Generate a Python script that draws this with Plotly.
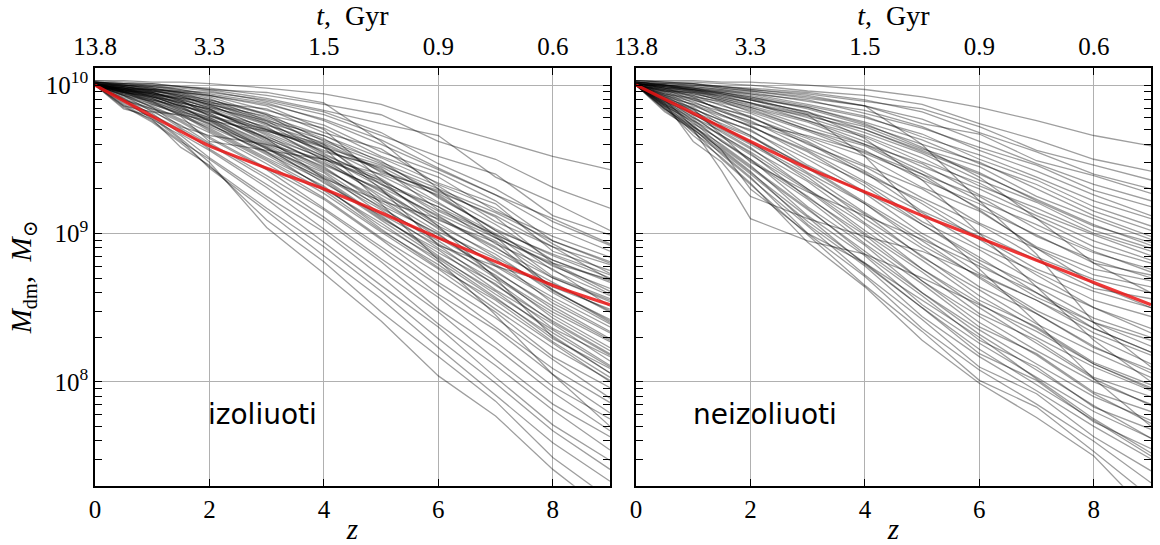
import plotly.graph_objects as go

# redshift grid of the digitised tracks
Z = [0, 0.5, 1, 1.5, 2, 3, 4, 5, 6, 7, 8, 9]

# log10(M_dm / M_sun) of individual haloes - isolated (left)
ISO_TRACKS = [
    [10.03, 10.03, 10.02, 10.02, 10.01, 9.98, 9.94, 9.87, 9.74, 9.63, 9.52, 9.43],
    [10.02, 10.01, 10.01, 9.99, 9.98, 9.93, 9.87, 9.80, 9.62, 9.50, 9.31, 9.17],
    [10.03, 10.02, 10.01, 9.99, 9.97, 9.91, 9.83, 9.74, 9.66, 9.38, 9.21, 9.02],
    [10.01, 10.00, 9.99, 9.98, 9.96, 9.89, 9.80, 9.66, 9.52, 9.40, 9.12, 8.99],
    [10.02, 10.01, 10.00, 9.97, 9.93, 9.87, 9.77, 9.63, 9.44, 9.26, 9.10, 8.93],
    [10.01, 9.99, 9.97, 9.95, 9.93, 9.83, 9.73, 9.55, 9.41, 9.22, 8.95, 8.80],
    [10.02, 10.00, 9.98, 9.94, 9.88, 9.84, 9.68, 9.57, 9.33, 9.17, 8.93, 8.73],
    [10.00, 9.97, 9.97, 9.95, 9.91, 9.76, 9.66, 9.48, 9.32, 9.08, 8.91, 8.69],
    [10.01, 9.99, 9.96, 9.94, 9.90, 9.81, 9.62, 9.47, 9.27, 9.06, 8.82, 8.67],
    [10.00, 9.98, 9.95, 9.91, 9.89, 9.78, 9.64, 9.41, 9.29, 9.11, 8.80, 8.61],
    [10.02, 9.99, 9.96, 9.93, 9.86, 9.73, 9.61, 9.43, 9.21, 8.97, 8.79, 8.59],
    [10.00, 9.99, 9.97, 9.92, 9.87, 9.70, 9.56, 9.44, 9.16, 8.99, 8.71, 8.56],
    [10.01, 9.97, 9.95, 9.90, 9.85, 9.76, 9.54, 9.35, 9.18, 8.93, 8.76, 8.51],
    [10.00, 9.98, 9.93, 9.91, 9.84, 9.69, 9.59, 9.33, 9.11, 8.91, 8.64, 8.49],
    [10.01, 9.96, 9.95, 9.89, 9.83, 9.67, 9.50, 9.34, 9.09, 8.94, 8.61, 8.42],
    [10.00, 9.98, 9.94, 9.88, 9.82, 9.72, 9.49, 9.28, 9.07, 8.84, 8.62, 8.41],
    [10.00, 9.97, 9.92, 9.89, 9.81, 9.64, 9.47, 9.29, 9.03, 8.79, 8.57, 8.37],
    [10.01, 9.96, 9.94, 9.87, 9.79, 9.65, 9.51, 9.24, 9.01, 8.83, 8.53, 8.33],
    [10.00, 9.98, 9.92, 9.86, 9.80, 9.63, 9.44, 9.21, 8.99, 8.74, 8.51, 8.29],
    [10.00, 9.95, 9.93, 9.85, 9.78, 9.61, 9.45, 9.19, 9.00, 8.71, 8.47, 8.27],
    [10.00, 9.97, 9.91, 9.84, 9.77, 9.59, 9.39, 9.18, 8.93, 8.72, 8.43, 8.21],
    [10.00, 9.96, 9.90, 9.86, 9.75, 9.57, 9.41, 9.13, 8.92, 8.65, 8.41, 8.19],
    [10.00, 9.95, 9.91, 9.83, 9.76, 9.55, 9.37, 9.11, 8.87, 8.66, 8.36, 8.17],
    [10.00, 9.94, 9.89, 9.82, 9.73, 9.58, 9.34, 9.12, 8.85, 8.59, 8.35, 8.11],
    [10.00, 9.96, 9.88, 9.81, 9.74, 9.53, 9.31, 9.05, 8.83, 8.57, 8.29, 8.09],
    [10.00, 9.93, 9.89, 9.79, 9.71, 9.51, 9.32, 9.03, 8.77, 8.55, 8.27, 8.03],
    [10.00, 9.95, 9.87, 9.80, 9.69, 9.49, 9.27, 9.01, 8.76, 8.49, 8.23, 8.01],
    [10.00, 9.92, 9.86, 9.77, 9.68, 9.47, 9.24, 8.97, 8.73, 8.47, 8.17, 7.96],
    [10.00, 9.94, 9.85, 9.76, 9.65, 9.44, 9.23, 8.96, 8.67, 8.43, 8.15, 7.89],
    [10.00, 9.91, 9.84, 9.75, 9.64, 9.43, 9.17, 8.91, 8.65, 8.37, 8.09, 7.86],
    [10.00, 9.93, 9.82, 9.73, 9.61, 9.39, 9.16, 8.89, 8.59, 8.35, 8.05, 7.79],
    [10.00, 9.90, 9.83, 9.71, 9.60, 9.37, 9.11, 8.83, 8.57, 8.27, 7.97, 7.75],
    [10.00, 9.91, 9.80, 9.70, 9.57, 9.33, 9.09, 8.81, 8.49, 8.23, 7.93, 7.67],
    [10.00, 9.89, 9.81, 9.67, 9.56, 9.31, 9.03, 8.75, 8.47, 8.15, 7.85, 7.63],
    [10.00, 9.90, 9.77, 9.66, 9.51, 9.25, 9.01, 8.71, 8.39, 8.11, 7.81, 7.54],
    [10.00, 9.87, 9.76, 9.62, 9.50, 9.23, 8.94, 8.65, 8.37, 8.03, 7.71, 7.47],
    [10.00, 9.86, 9.75, 9.61, 9.45, 9.17, 8.91, 8.61, 8.29, 7.99, 7.67, 7.41],
    [10.00, 9.88, 9.78, 9.63, 9.44, 9.15, 8.85, 8.56, 8.23, 7.91, 7.59, 7.33],
    [10.00, 9.85, 9.77, 9.58, 9.46, 9.09, 8.81, 8.47, 8.17, 7.87, 7.49, 7.21],
    [10.00, 9.84, 9.79, 9.64, 9.48, 9.04, 8.73, 8.41, 8.04, 7.77, 7.41, 7.11],
    [10.00, 9.86, 9.82, 9.80, 9.76, 9.69, 9.58, 9.46, 9.30, 9.14, 8.95, 8.81],
    [10.02, 10.01, 10.00, 9.99, 9.97, 9.95, 9.88, 9.62, 9.30, 8.98, 8.62, 8.40],
    [10.00, 9.90, 9.84, 9.79, 9.62, 9.56, 9.50, 9.40, 9.26, 9.02, 8.86, 8.72],
    [10.01, 10.00, 9.98, 9.95, 9.93, 9.86, 9.70, 9.36, 9.05, 8.70, 8.30, 8.06],
    [10.00, 9.93, 9.85, 9.72, 9.66, 9.60, 9.50, 9.36, 9.15, 8.97, 8.80, 8.69],
    [10.01, 9.98, 9.97, 9.96, 9.92, 9.80, 9.58, 9.20, 8.82, 8.45, 8.05, 7.70],
    [10.00, 9.95, 9.92, 9.88, 9.84, 9.64, 9.37, 9.22, 9.10, 8.90, 8.70, 8.55],
    [10.00, 9.97, 9.94, 9.90, 9.79, 9.70, 9.60, 9.30, 8.92, 8.78, 8.66, 8.48],
    [10.02, 10.00, 9.97, 9.93, 9.90, 9.80, 9.71, 9.52, 9.38, 9.15, 8.98, 8.84],
    [10.01, 9.99, 9.96, 9.92, 9.87, 9.79, 9.66, 9.51, 9.34, 9.20, 8.88, 8.75],
    [10.02, 10.00, 9.98, 9.95, 9.89, 9.75, 9.63, 9.49, 9.24, 9.03, 8.85, 8.70],
    [10.00, 9.98, 9.96, 9.93, 9.88, 9.74, 9.58, 9.39, 9.20, 9.00, 8.78, 8.63],
    [10.01, 9.98, 9.95, 9.90, 9.85, 9.71, 9.55, 9.45, 9.25, 9.02, 8.75, 8.58],
    [10.00, 9.97, 9.94, 9.91, 9.86, 9.74, 9.53, 9.37, 9.13, 8.95, 8.70, 8.54],
    [10.01, 9.99, 9.95, 9.89, 9.83, 9.68, 9.52, 9.31, 9.12, 8.88, 8.67, 8.47],
    [10.00, 9.97, 9.93, 9.88, 9.84, 9.66, 9.46, 9.30, 9.05, 8.86, 8.60, 8.39],
    [10.00, 9.96, 9.93, 9.87, 9.80, 9.64, 9.48, 9.26, 9.04, 8.78, 8.55, 8.34],
    [10.01, 9.97, 9.92, 9.86, 9.81, 9.62, 9.43, 9.23, 8.97, 8.75, 8.49, 8.28],
    [10.00, 9.96, 9.91, 9.84, 9.78, 9.60, 9.42, 9.17, 8.95, 8.70, 8.45, 8.23],
    [10.00, 9.95, 9.90, 9.85, 9.76, 9.58, 9.38, 9.16, 8.90, 8.68, 8.40, 8.18],
    [10.00, 9.96, 9.89, 9.82, 9.77, 9.57, 9.36, 9.10, 8.89, 8.62, 8.39, 8.14],
    [10.00, 9.94, 9.90, 9.83, 9.74, 9.54, 9.35, 9.09, 8.84, 8.61, 8.33, 8.10],
    [10.00, 9.95, 9.88, 9.80, 9.72, 9.55, 9.30, 9.07, 8.81, 8.56, 8.31, 8.06],
    [10.00, 9.93, 9.87, 9.81, 9.70, 9.50, 9.29, 9.02, 8.79, 8.52, 8.26, 8.00],
    [10.02, 10.01, 9.99, 9.97, 9.94, 9.88, 9.76, 9.60, 9.43, 9.26, 9.04, 8.88],
    [10.01, 10.00, 9.99, 9.96, 9.95, 9.90, 9.82, 9.68, 9.47, 9.30, 9.08, 8.92],
    [10.00, 9.98, 9.94, 9.92, 9.87, 9.77, 9.60, 9.42, 9.28, 9.12, 8.91, 8.79],
    [10.00, 9.95, 9.92, 9.86, 9.82, 9.70, 9.52, 9.33, 9.18, 8.99, 8.82, 8.68],
]

# non-isolated (right)
NONISO_TRACKS = [
    [10.03, 10.03, 10.03, 10.02, 10.02, 10.00, 9.97, 9.92, 9.85, 9.76, 9.66, 9.59],
    [10.03, 10.02, 10.02, 10.01, 10.00, 9.96, 9.93, 9.87, 9.74, 9.63, 9.50, 9.42],
    [10.02, 10.01, 10.01, 9.99, 9.97, 9.94, 9.89, 9.84, 9.72, 9.56, 9.46, 9.36],
    [10.03, 10.02, 10.01, 9.98, 9.96, 9.91, 9.86, 9.74, 9.67, 9.49, 9.39, 9.27],
    [10.01, 10.00, 9.99, 9.97, 9.94, 9.90, 9.81, 9.71, 9.58, 9.46, 9.29, 9.18],
    [10.02, 10.00, 9.98, 9.96, 9.94, 9.87, 9.79, 9.65, 9.53, 9.38, 9.22, 9.10],
    [10.01, 9.99, 9.97, 9.95, 9.91, 9.85, 9.75, 9.63, 9.47, 9.33, 9.15, 9.02],
    [10.02, 10.00, 9.96, 9.94, 9.91, 9.81, 9.72, 9.57, 9.45, 9.25, 9.10, 8.96],
    [10.01, 9.98, 9.97, 9.92, 9.88, 9.80, 9.68, 9.54, 9.36, 9.21, 9.02, 8.90],
    [10.00, 9.97, 9.95, 9.93, 9.88, 9.76, 9.65, 9.48, 9.34, 9.14, 8.99, 8.85],
    [10.01, 9.98, 9.94, 9.90, 9.85, 9.75, 9.60, 9.47, 9.26, 9.10, 8.91, 8.80],
    [10.00, 9.96, 9.95, 9.89, 9.84, 9.70, 9.59, 9.40, 9.25, 9.03, 8.87, 8.76],
    [10.01, 9.98, 9.92, 9.89, 9.82, 9.69, 9.54, 9.38, 9.17, 8.99, 8.80, 8.72],
    [10.00, 9.97, 9.93, 9.86, 9.81, 9.65, 9.52, 9.31, 9.15, 8.91, 8.76, 8.68],
    [10.00, 9.95, 9.91, 9.87, 9.78, 9.64, 9.46, 9.30, 9.07, 8.90, 8.72, 8.64],
    [10.01, 9.97, 9.90, 9.84, 9.79, 9.60, 9.45, 9.24, 9.06, 8.84, 8.69, 8.60],
    [10.00, 9.94, 9.91, 9.83, 9.75, 9.61, 9.40, 9.22, 9.00, 8.82, 8.63, 8.56],
    [10.00, 9.96, 9.88, 9.82, 9.76, 9.57, 9.41, 9.15, 8.98, 8.76, 8.61, 8.50],
    [10.00, 9.93, 9.89, 9.80, 9.72, 9.56, 9.35, 9.14, 8.91, 8.74, 8.55, 8.44],
    [10.00, 9.95, 9.86, 9.79, 9.73, 9.52, 9.34, 9.08, 8.89, 8.67, 8.50, 8.36],
    [10.00, 9.92, 9.87, 9.77, 9.69, 9.50, 9.28, 9.06, 8.82, 8.64, 8.43, 8.30],
    [10.00, 9.94, 9.84, 9.76, 9.70, 9.46, 9.27, 9.00, 8.80, 8.57, 8.40, 8.24],
    [10.00, 9.91, 9.85, 9.73, 9.65, 9.45, 9.21, 8.98, 8.73, 8.55, 8.33, 8.18],
    [10.00, 9.93, 9.82, 9.74, 9.66, 9.41, 9.20, 8.92, 8.71, 8.48, 8.30, 8.12],
    [10.00, 9.90, 9.83, 9.71, 9.61, 9.40, 9.14, 8.90, 8.64, 8.46, 8.23, 8.08],
    [10.00, 9.92, 9.80, 9.72, 9.62, 9.36, 9.13, 8.84, 8.62, 8.39, 8.20, 8.03],
    [10.00, 9.89, 9.81, 9.68, 9.57, 9.35, 9.07, 8.82, 8.55, 8.37, 8.13, 7.98],
    [10.00, 9.91, 9.78, 9.69, 9.58, 9.30, 9.06, 8.76, 8.53, 8.30, 8.10, 7.94],
    [10.00, 9.88, 9.79, 9.65, 9.53, 9.29, 9.00, 8.74, 8.46, 8.28, 8.03, 7.90],
    [10.00, 9.90, 9.76, 9.66, 9.54, 9.24, 8.99, 8.68, 8.44, 8.21, 8.00, 7.85],
    [10.00, 9.87, 9.77, 9.62, 9.49, 9.23, 8.93, 8.66, 8.37, 8.19, 7.93, 7.80],
    [10.00, 9.89, 9.74, 9.63, 9.50, 9.18, 8.92, 8.60, 8.35, 8.12, 7.90, 7.74],
    [10.00, 9.86, 9.75, 9.59, 9.45, 9.17, 8.86, 8.58, 8.28, 8.10, 7.83, 7.68],
    [10.00, 9.88, 9.72, 9.60, 9.46, 9.12, 8.85, 8.52, 8.26, 8.03, 7.80, 7.62],
    [10.00, 9.85, 9.73, 9.56, 9.41, 9.11, 8.79, 8.50, 8.19, 8.01, 7.73, 7.55],
    [10.00, 9.87, 9.70, 9.57, 9.42, 9.06, 8.78, 8.44, 8.17, 7.94, 7.70, 7.48],
    [10.00, 9.84, 9.71, 9.53, 9.37, 9.05, 8.72, 8.42, 8.10, 7.92, 7.63, 7.40],
    [10.00, 9.86, 9.68, 9.54, 9.38, 9.00, 8.71, 8.36, 8.08, 7.85, 7.60, 7.32],
    [10.00, 9.83, 9.69, 9.50, 9.33, 8.99, 8.65, 8.34, 8.01, 7.83, 7.53, 7.22],
    [10.00, 9.85, 9.66, 9.51, 9.34, 8.94, 8.64, 8.28, 7.99, 7.76, 7.50, 7.10],
    [10.00, 9.84, 9.70, 9.42, 9.10, 8.95, 8.86, 8.70, 8.52, 8.34, 8.12, 7.96],
    [10.02, 10.01, 10.00, 9.99, 9.97, 9.93, 9.86, 9.60, 9.22, 8.86, 8.40, 8.10],
    [10.00, 9.88, 9.62, 9.48, 9.25, 9.10, 8.98, 8.88, 8.72, 8.55, 8.36, 8.20],
    [10.01, 10.00, 9.98, 9.94, 9.90, 9.80, 9.52, 9.12, 8.76, 8.40, 8.02, 7.70],
    [10.00, 9.90, 9.72, 9.56, 9.30, 9.00, 8.80, 8.55, 8.30, 8.02, 7.75, 7.52],
    [10.01, 9.98, 9.96, 9.91, 9.87, 9.79, 9.70, 9.56, 9.41, 9.22, 9.05, 8.94],
    [10.00, 9.92, 9.84, 9.66, 9.48, 9.28, 9.12, 8.96, 8.78, 8.60, 8.40, 8.28],
    [10.01, 9.99, 9.97, 9.94, 9.90, 9.82, 9.64, 9.36, 9.00, 8.64, 8.28, 8.00],
    [10.03, 10.02, 10.01, 9.99, 9.98, 9.95, 9.90, 9.82, 9.68, 9.55, 9.40, 9.30],
    [10.02, 10.01, 10.00, 9.98, 9.96, 9.92, 9.86, 9.77, 9.62, 9.47, 9.33, 9.22],
    [10.02, 10.00, 9.99, 9.97, 9.95, 9.89, 9.83, 9.72, 9.56, 9.42, 9.26, 9.12],
    [10.01, 10.00, 9.98, 9.96, 9.93, 9.86, 9.78, 9.67, 9.50, 9.36, 9.18, 9.05],
    [10.02, 10.00, 9.97, 9.95, 9.92, 9.84, 9.73, 9.60, 9.48, 9.30, 9.12, 8.98],
    [10.01, 9.99, 9.97, 9.93, 9.90, 9.82, 9.70, 9.55, 9.40, 9.23, 9.06, 8.92],
    [10.00, 9.98, 9.96, 9.92, 9.88, 9.78, 9.66, 9.51, 9.32, 9.17, 9.00, 8.88],
    [10.01, 9.99, 9.95, 9.91, 9.86, 9.76, 9.62, 9.45, 9.30, 9.12, 8.95, 8.82],
    [10.00, 9.97, 9.94, 9.90, 9.85, 9.72, 9.60, 9.42, 9.22, 9.06, 8.88, 8.74],
    [10.00, 9.96, 9.93, 9.88, 9.83, 9.70, 9.56, 9.36, 9.20, 8.98, 8.82, 8.70],
    [10.00, 9.94, 9.90, 9.84, 9.78, 9.62, 9.42, 9.20, 8.96, 8.72, 8.50, 8.33],
    [10.00, 9.93, 9.87, 9.80, 9.72, 9.55, 9.32, 9.06, 8.84, 8.60, 8.36, 8.20],
    [10.00, 9.90, 9.84, 9.76, 9.66, 9.44, 9.20, 8.95, 8.70, 8.46, 8.24, 8.06],
    [10.00, 9.89, 9.80, 9.70, 9.60, 9.38, 9.10, 8.85, 8.58, 8.36, 8.12, 7.95],
    [10.00, 9.87, 9.78, 9.66, 9.55, 9.30, 9.02, 8.76, 8.50, 8.26, 8.02, 7.84],
    [10.00, 9.86, 9.76, 9.62, 9.50, 9.25, 8.96, 8.68, 8.40, 8.18, 7.92, 7.72],
    [10.00, 9.84, 9.72, 9.58, 9.44, 9.16, 8.88, 8.60, 8.32, 8.08, 7.84, 7.62],
    [10.00, 9.82, 9.70, 9.55, 9.40, 9.08, 8.80, 8.50, 8.22, 7.98, 7.74, 7.50],
    [10.01, 9.99, 9.98, 9.95, 9.92, 9.85, 9.74, 9.58, 9.38, 9.10, 8.80, 8.60],
    [10.00, 9.96, 9.92, 9.82, 9.74, 9.66, 9.55, 9.40, 9.16, 8.90, 8.66, 8.50],
]

# red reference track
RED_Z = [0, 1, 2, 3, 4, 5, 6, 7, 8, 9]
RED_ISO = [10.0, 9.79, 9.59, 9.44, 9.30, 9.14, 8.97, 8.81, 8.65, 8.52]
RED_NONISO = [10.0, 9.81, 9.62, 9.44, 9.28, 9.12, 8.97, 8.82, 8.67, 8.52]

Z_TICKS = [0, 2, 4, 6, 8]
T_LABELS = ["13.8", "3.3", "1.5", "0.9", "0.6"]
Y_TICKS = [1e8, 1e9, 1e10]
Y_LABELS = ["10<sup>8</sup>", "10<sup>9</sup>", "10<sup>10</sup>"]
MINOR_Y = [m * 10 ** e for e in (7, 8, 9) for m in range(2, 10)]
PANEL_LABELS = ["izoliuoti", "neizoliuoti"]

W, H = 1160, 545
SERIF = "Liberation Serif, DejaVu Serif, serif"
GRAY = "rgba(0,0,0,0.38)"
RED = "rgba(235,20,20,0.85)"

fig = go.Figure()
for tracks, xa, ya in ((ISO_TRACKS, "x", "y"), (NONISO_TRACKS, "x2", "y2")):
    for vals in tracks:
        fig.add_trace(go.Scatter(
            x=Z, y=[10 ** v for v in vals], mode="lines",
            line=dict(color=GRAY, width=1.3),
            xaxis=xa, yaxis=ya, hoverinfo="skip", showlegend=False))

for red, xa, ya in ((RED_ISO, "x3", "y"), (RED_NONISO, "x4", "y2")):
    fig.add_trace(go.Scatter(
        x=RED_Z, y=[10 ** v for v in red], mode="lines",
        line=dict(color=RED, width=3.2, shape="spline", smoothing=0.5),
        xaxis=xa, yaxis=ya, hoverinfo="skip", showlegend=False))

x_left = [95 / W, 610 / W]
x_right = [636 / W, 1151 / W]
y_dom = [1 - 485.7 / H, 1 - 68 / H]

def xaxis(domain, anchor):
    return dict(
        domain=domain, anchor=anchor, range=[0, 9], automargin=False,
        tickvals=Z_TICKS, ticks="inside", ticklen=7, tickwidth=1.2,
        tickcolor="black", mirror="allticks", showline=True,
        linecolor="black", linewidth=1.6, showgrid=True,
        gridcolor="#b0b0b0", gridwidth=1, zeroline=False,
        tickfont=dict(family=SERIF, size=25, color="black"),
        title=dict(text="<i>z</i>", font=dict(family=SERIF, size=29, color="black"),
                   standoff=0),
    )

def top_axis(over, anchor):
    return dict(
        overlaying=over, anchor=anchor, side="top", range=[0, 9], automargin=False,
        tickvals=Z_TICKS, ticktext=T_LABELS, ticks="outside", ticklen=2,
        tickcolor="rgba(0,0,0,0)", showline=False,
        showgrid=False, zeroline=False,
        tickfont=dict(family=SERIF, size=25, color="black"),
        title=dict(text="<i>t</i>,  Gyr", font=dict(family=SERIF, size=28, color="black"),
                   standoff=9),
    )

def yaxis(anchor, labels):
    return dict(
        domain=y_dom, anchor=anchor, type="log", range=[7.30, 10.115],
        automargin=False,
        tickvals=Y_TICKS, ticktext=Y_LABELS, showticklabels=labels,
        ticks="inside", ticklen=7, tickwidth=1.2, tickcolor="black",
        mirror="allticks", showline=True, linecolor="black", linewidth=1.6,
        showgrid=True, gridcolor="#b0b0b0", gridwidth=1, zeroline=False,
        minor=dict(tickvals=MINOR_Y, ticks="inside", ticklen=4,
                   tickcolor="black", tickwidth=1, showgrid=False),
        tickfont=dict(family=SERIF, size=25, color="black"),
    )

fig.update_layout(
    width=W, height=H, margin=dict(l=0, r=0, t=0, b=0),
    paper_bgcolor="white", plot_bgcolor="white",
    xaxis=xaxis(x_left, "y"),
    xaxis2=xaxis(x_right, "y2"),
    xaxis3=top_axis("x", "y"),
    xaxis4=top_axis("x2", "y2"),
    yaxis=dict(**yaxis("x", True),
               title=dict(text="<i>M</i><sub>dm</sub>,  <i>M</i><sub>⊙</sub>",
                          font=dict(family=SERIF, size=29, color="black"),
                          standoff=6)),
    yaxis2=yaxis("x2", False),
    annotations=[
        dict(text=PANEL_LABELS[0], x=206 / W, y=1 - 433 / H, xref="paper", yref="paper",
             showarrow=False, font=dict(family="DejaVu Sans", size=28, color="black")),
        dict(text=PANEL_LABELS[1], x=765 / W, y=1 - 433 / H, xref="paper", yref="paper",
             showarrow=False, font=dict(family="DejaVu Sans", size=28, color="black")),
    ],
)

fig.write_html("out.html")
